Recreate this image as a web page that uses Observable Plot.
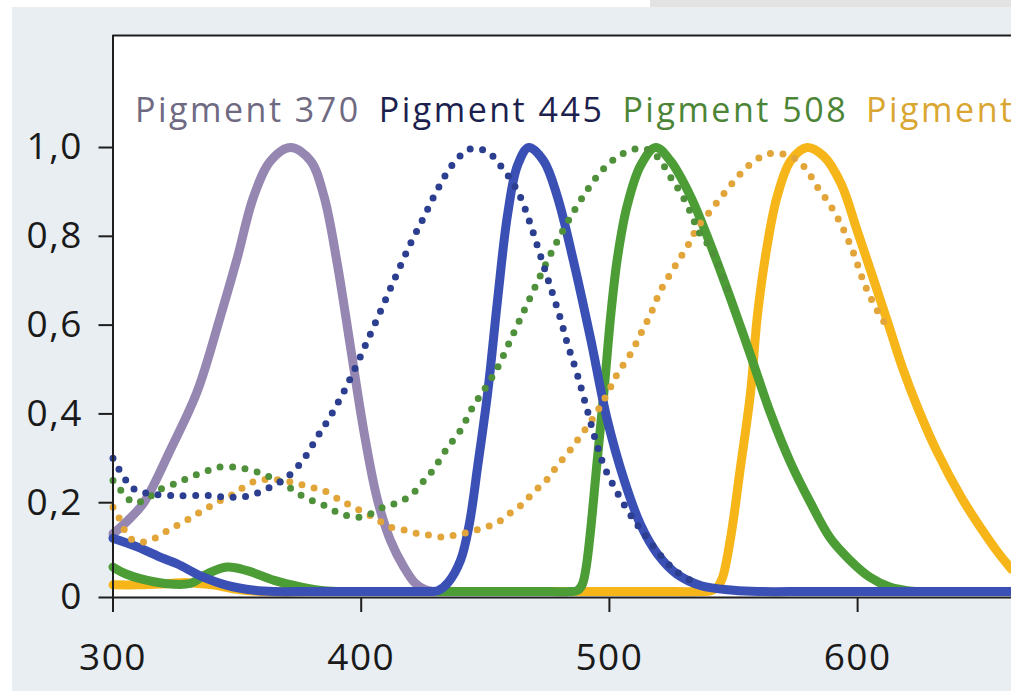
<!DOCTYPE html>
<html>
<head>
<meta charset="utf-8">
<script src="https://cdn.jsdelivr.net/npm/d3@7"></script>
<script src="https://cdn.jsdelivr.net/npm/@observablehq/plot@0.6"></script>
<style>
  html, body { margin: 0; padding: 0; overflow: hidden; background: #fff; }
  #chart {
    width: 1011px; height: 691px; overflow: hidden;
    background:
      linear-gradient(#e3e3e3, #e3e3e3) 650px 0 / 361px 7px no-repeat,
      linear-gradient(#fff, #fff) 0 0 / 100% 7px no-repeat,
      linear-gradient(#fff, #fff) 0 0 / 12px 100% no-repeat,
      #e8eef2;
  }
  #chart svg { display: block; }
  #chart svg g[aria-label="x-axis tick label"] text,
  #chart svg g[aria-label="y-axis tick label"] text { letter-spacing: 1.5px; }
  #chart svg g.legend text { letter-spacing: 2.5px; }
</style>
</head>
<body>
<div id="chart"></div>
<script>
// ---- data: [wavelength nm, relative absorbance] ----
const pigment370 = [[300,0.13],[306,0.16],[312.4,0.20],[323.2,0.32],[333.9,0.45],[343.3,0.62],[350,0.75],[356.7,0.89],[363.5,0.97],[371.5,1.0],[379.6,0.97],[385,0.89],[390.3,0.74],[395.7,0.55],[401.1,0.36],[406.4,0.21],[411.8,0.115],[417.2,0.055],[421.5,0.02],[425.5,0.005],[429,0]];
const pigment445 = [[300,0.12],[310,0.10],[320,0.075],[326,0.062],[335,0.036],[346,0.014],[357,0.003],[365,0],[380,0],[400,0],[420,0],[428,0],[431,0.002],[435,0.02],[440,0.07],[443.5,0.15],[447,0.285],[451,0.45],[455,0.66],[459,0.85],[463,0.96],[467.5,1.0],[473.5,0.97],[479,0.89],[485.7,0.74],[492.4,0.57],[499,0.39],[506,0.25],[512.6,0.15],[519.3,0.085],[527,0.04],[537,0.013],[550,0.003],[560,0],[580,0],[600,0],[620,0],[640,0],[662,0]];
const pigment508 = [[300,0.055],[305,0.04],[311,0.029],[321,0.018],[331,0.018],[338,0.04],[346,0.055],[354,0.047],[365,0.025],[376,0.01],[385,0.002],[395,0],[410,0],[430,0],[450,0],[470,0],[484,0],[487,0.002],[489,0.015],[490.5,0.05],[492.4,0.137],[495,0.29],[497.8,0.45],[500.5,0.62],[503.2,0.75],[507.2,0.87],[512.6,0.96],[518.6,1.0],[524.6,0.97],[532.7,0.89],[540.8,0.78],[548.8,0.66],[557,0.53],[565,0.40],[573,0.29],[581,0.20],[589,0.12],[597,0.07],[605,0.032],[613,0.01],[620,0.002],[626,0],[640,0],[662,0]];
const pigment565 = [[300,0.015],[310,0.015],[320,0.017],[330,0.02],[340,0.015],[350,0.005],[360,0],[380,0],[400,0],[420,0],[440,0],[460,0],[480,0],[500,0],[520,0],[536,0],[541,0.002],[543.5,0.01],[545.5,0.03],[548.8,0.12],[552.8,0.28],[556.9,0.45],[559.6,0.62],[563.6,0.78],[567.6,0.89],[573,0.97],[579.7,1.0],[586.4,0.98],[593.2,0.92],[600,0.81],[606.6,0.70],[612.5,0.60],[618,0.505],[624.5,0.41],[632,0.315],[642,0.21],[650,0.14],[656,0.092],[662,0.05]];

const pigment445Dotted = [[300,0.30],[304.4,0.257],[308.4,0.231],[315,0.22],[326,0.216],[339,0.216],[347,0.212],[355,0.216],[363.4,0.235],[370,0.257],[376.8,0.298],[382.2,0.347],[387.6,0.395],[393,0.45],[398.3,0.512],[403.7,0.58],[409.1,0.648],[414.4,0.716],[419.8,0.783],[425.2,0.843],[430.5,0.903],[437,0.963],[444,0.997],[451,0.99],[456,0.96],[460,0.93],[464,0.89],[468,0.83],[472,0.76],[476,0.69],[480,0.62],[483,0.56],[487,0.49],[491,0.41],[495,0.33],[498,0.28],[502,0.235],[506,0.195],[510,0.16],[514,0.13],[520,0.085],[527,0.045],[535,0.018]];
const pigment508Dotted = [[300,0.25],[305,0.216],[308.4,0.20],[313.8,0.209],[317.8,0.227],[323.2,0.239],[327.9,0.25],[332.6,0.261],[338,0.272],[342.6,0.28],[348.7,0.28],[353.4,0.276],[358.1,0.269],[363.5,0.257],[368.8,0.243],[372.9,0.227],[378.3,0.209],[383.6,0.198],[389,0.182],[393,0.173],[398.4,0.167],[403.8,0.175],[409,0.19],[413.2,0.197],[417.9,0.209],[421.9,0.227],[425.9,0.254],[429.3,0.276],[432.6,0.306],[436,0.333],[440,0.363],[445.4,0.42],[449.4,0.453],[455,0.505],[460,0.565],[465,0.625],[470,0.685],[475,0.745],[480,0.80],[485,0.85],[490,0.895],[495,0.935],[500,0.965],[505,0.985],[511,0.997],[516.6,0.993],[520.6,0.97],[525,0.93],[529,0.895],[533,0.85],[536,0.81],[541,0.77],[548.8,0.66]];
const pigment565Dotted = [[300,0.19],[303.7,0.152],[305.7,0.126],[310,0.112],[315,0.115],[319.8,0.13],[324.5,0.145],[329,0.158],[333.9,0.175],[338.6,0.19],[343.3,0.205],[348.7,0.22],[352.7,0.235],[358.1,0.25],[363.5,0.252],[368.8,0.25],[374.2,0.243],[379.6,0.235],[385,0.227],[391.7,0.205],[397,0.19],[405,0.167],[411.8,0.145],[418.5,0.137],[423.2,0.13],[428.6,0.126],[434,0.122],[439.3,0.13],[444.1,0.134],[449.4,0.145],[454.1,0.152],[458.8,0.172],[463.5,0.19],[467.5,0.212],[471.6,0.235],[475.6,0.257],[479,0.284],[483,0.31],[487,0.34],[493.7,0.393],[499.1,0.445],[503.2,0.49],[508.5,0.535],[512.6,0.58],[516.6,0.625],[520.6,0.678],[524.6,0.716],[528.7,0.753],[532.7,0.79],[535.4,0.82],[540.8,0.858],[546.1,0.896],[551.5,0.933],[556.9,0.963],[563.6,0.985],[570.3,0.985],[575.7,0.971],[579.7,0.948],[583.8,0.911],[587.8,0.88],[591.8,0.843],[594.5,0.813],[598.5,0.76],[601.2,0.716],[603.9,0.678],[607.9,0.633],[612.5,0.59]];

const legendLabels = ["Pigment 370", "Pigment 445", "Pigment 508", "Pigment 565"];
const xTicks = [300, 400, 500, 600];
const yTicks = [0.2, 0.4, 0.6, 0.8, 1.0];

// ---- styling / layout ----
const W = 1011, H = 691;
const mLeft = 112.5, mRight = 0, mTop = 35, mBottom = 94;
const xDomain = [300, 662];
const yDomain = [-0.0135, 1.2523];
const legendColors = ["#6f6a82", "#1d1f4e", "#4d8537", "#d9a631"];
const colSolid = {p370: "#9587b2", p445: "#3b50b5", p508: "#4c9d36", p565: "#f6b619"};
const colDot = {p445: "#2b3e8f", p508: "#4f903b", p565: "#e2a53a"};
const axisColor = "#1e1e1e";
const font = "Open Sans";
const legendFontSize = 34, legendSpacing = 2.5, legendGap = 18, legendOffsetPx = 22;

// legend x positions computed from measured text widths
const ctx = document.createElement("canvas").getContext("2d");
ctx.font = `${legendFontSize}px "${font}"`;
const pxPerNm = (W - mLeft - mRight) / (xDomain[1] - xDomain[0]);
let cursor = legendOffsetPx;
const legendX = legendLabels.map(t => {
  const x = xDomain[0] + cursor / pxPerNm;
  cursor += ctx.measureText(t).width + legendSpacing * t.length + legendGap;
  return x;
});
const legendY = 1.081;

const solid = (data, color) => Plot.line(data, {x: d => d[0], y: d => d[1], stroke: color, strokeWidth: 9, curve: "catmull-rom", strokeLinecap: "round", strokeLinejoin: "round"});
const dotted = (data, color) => Plot.line(data, {x: d => d[0], y: d => d[1], stroke: color, strokeWidth: 7, strokeDasharray: "0 12.5", strokeLinecap: "round", curve: "catmull-rom"});

const chart = Plot.plot({
  width: W, height: H,
  marginLeft: mLeft, marginRight: mRight, marginTop: mTop, marginBottom: mBottom,
  style: {background: "transparent", fontFamily: font, overflow: "hidden"},
  x: {domain: xDomain},
  y: {domain: yDomain},
  marks: [
    Plot.frame({fill: "white", stroke: "none"}),
    solid(pigment565, colSolid.p565),
    solid(pigment508, colSolid.p508),
    solid(pigment370, colSolid.p370),
    solid(pigment445, colSolid.p445),
    dotted(pigment565Dotted, colDot.p565),
    dotted(pigment508Dotted, colDot.p508),
    dotted(pigment445Dotted, colDot.p445),
    Plot.ruleY([yDomain[1]], {stroke: axisColor, strokeWidth: 2}),
    Plot.ruleY([yDomain[0]], {stroke: axisColor, strokeWidth: 2}),
    Plot.ruleX([xDomain[0]], {stroke: axisColor, strokeWidth: 2}),
    Plot.axisX({ticks: xTicks, tickSize: 15, tickPadding: 31, fontSize: 37, label: null, stroke: axisColor, strokeWidth: 2, color: "#1a1a1a", tickFormat: d => String(d)}),
    Plot.axisY({ticks: [yDomain[0], ...yTicks], tickSize: 14, tickPadding: 16, fontSize: 37, label: null, stroke: axisColor, strokeWidth: 2, color: "#1a1a1a",
      tickFormat: d => d < 0.1 ? "0" : d.toFixed(1).replace(".", ",")}),
    Plot.text(legendLabels, {x: (d, i) => legendX[i], y: legendY, text: d => d, fill: (d, i) => legendColors[i],
      textAnchor: "start", lineAnchor: "middle", fontSize: legendFontSize, className: "legend"})
  ]
});
document.getElementById("chart").appendChild(chart);
</script>
</body>
</html>
